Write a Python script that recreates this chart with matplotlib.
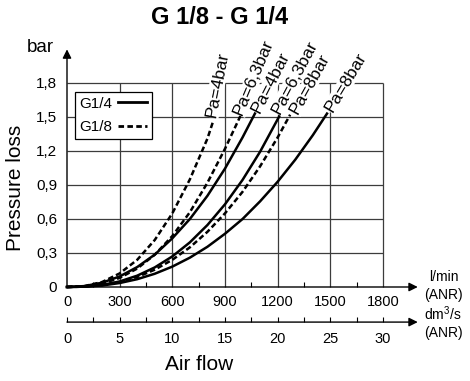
import matplotlib

matplotlib.use("Agg")

import matplotlib.pyplot as plt
from matplotlib.lines import Line2D

plt.rcParams["font.family"] = ["Liberation Sans", "DejaVu Sans"]
plt.rcParams["mathtext.fontset"] = "custom"
plt.rcParams["mathtext.rm"] = "Liberation Sans"
plt.rcParams["mathtext.it"] = "Liberation Sans"

# flow in l/min (ANR), pressure loss in bar
g18_4_x = [0, 100, 200, 300, 400, 500, 600, 700, 800, 834]
g18_4_y = [0, 0.008, 0.044, 0.12, 0.24, 0.415, 0.65, 0.95, 1.31, 1.47]

g18_63_x = [0, 100, 200, 300, 400, 500, 600, 700, 800, 900, 988]
g18_63_y = [0, 0.005, 0.029, 0.08, 0.163, 0.285, 0.45, 0.66, 0.92, 1.22, 1.51]

g14_4_x = [0, 100, 200, 300, 400, 500, 600, 700, 800, 900, 1000, 1072]
g14_4_y = [0, 0.008, 0.038, 0.093, 0.176, 0.286, 0.43, 0.60, 0.805, 1.045, 1.32, 1.535]

g14_63_x = [0, 100, 200, 300, 400, 500, 600, 700, 800, 900, 1000, 1100, 1214]
g14_63_y = [0, 0.003, 0.018, 0.049, 0.10, 0.173, 0.27, 0.394, 0.547, 0.73, 0.945, 1.194, 1.52]

g18_8_x = [0, 100, 200, 300, 400, 500, 600, 700, 800, 900, 1000, 1100, 1200, 1271]
g18_8_y = [0, 0.003, 0.016, 0.044, 0.088, 0.153, 0.24, 0.35, 0.487, 0.65, 0.84, 1.065, 1.32, 1.52]

g14_8_x = [0, 100, 200, 300, 400, 500, 600, 700, 800, 900, 1000, 1100, 1200, 1300, 1400, 1481]
g14_8_y = [0, 0.003, 0.013, 0.035, 0.069, 0.117, 0.18, 0.259, 0.355, 0.47, 0.60, 0.756, 0.929, 1.123, 1.339, 1.53]

curves = [
    (g18_4_x, g18_4_y, "G1/8", "Pa=4bar"),
    (g18_63_x, g18_63_y, "G1/8", "Pa=6,3bar"),
    (g14_4_x, g14_4_y, "G1/4", "Pa=4bar"),
    (g14_63_x, g14_63_y, "G1/4", "Pa=6,3bar"),
    (g18_8_x, g18_8_y, "G1/8", "Pa=8bar"),
    (g14_8_x, g14_8_y, "G1/4", "Pa=8bar"),
]
# label angle and offset (points) from the curve end
label_layout = [(79, (-1.9, 2.4)), (67, (-1.8, 1.0)), (63, (0.4, 0.6)),
                (62, (-3.2, 1.4)), (61, (2.8, 1.4)), (59, (1.4, 1.8))]

flow_ticks = [0, 300, 600, 900, 1200, 1500, 1800]
pressure_ticks = [0, 0.3, 0.6, 0.9, 1.2, 1.5, 1.8]
pressure_labels = ["0", "0,3", "0,6", "0,9", "1,2", "1,5", "1,8"]
dm3_ticks = [0, 5, 10, 15, 20, 25, 30]

DASH = (0, (2.2, 1.2))

fig = plt.figure(figsize=(4.7, 3.81), dpi=100)
ax = fig.add_axes([67 / 470, 94 / 381, 316 / 470, 204 / 381])
ax.set_xlim(0, 1800)
ax.set_ylim(0, 1.8)
for s in ax.spines.values():
    s.set_visible(False)

# grid
ax.hlines(pressure_ticks[1:], 0, 1800, color="#3c3c3c", lw=0.9, clip_on=False, zorder=1)
ax.vlines(flow_ticks[1:], 0, 1.8, color="#3c3c3c", lw=0.9, clip_on=False, zorder=1)

# axes with arrows
arrow = dict(arrowstyle="-|>", color="black", lw=1.0, mutation_scale=13, shrinkA=0, shrinkB=0)
ax.annotate("", xy=(1.11, 0), xytext=(0, 0), xycoords="axes fraction", arrowprops=arrow, annotation_clip=False)
ax.annotate("", xy=(0, 1.165), xytext=(0, 0), xycoords="axes fraction", arrowprops=arrow, annotation_clip=False)
ax.annotate("", xy=(1.11, -0.172), xytext=(0, -0.172), xycoords="axes fraction", arrowprops=arrow, annotation_clip=False)

ax.set_xticks(flow_ticks)
ax.set_xticks([150, 450, 750, 1050, 1350, 1650], minor=True)
ax.set_yticks(pressure_ticks)
ax.set_yticklabels(pressure_labels)
ax.tick_params(axis="x", which="major", length=0, pad=6, labelsize=10.5)
ax.tick_params(axis="x", which="minor", direction="in", length=3.5, width=0.8)
ax.tick_params(axis="y", which="major", length=0, pad=7, labelsize=11)

sec = ax.secondary_xaxis(-0.172, functions=(lambda q: q / 60, lambda q: q * 60))
sec.spines["bottom"].set_visible(False)
sec.set_xticks(dm3_ticks)
sec.set_xticks([2.5, 7.5, 12.5, 17.5, 22.5, 27.5], minor=True)
sec.tick_params(axis="x", which="both", direction="in", length=3.5, width=0.8, pad=7, labelsize=10.5)

for (xs, ys, size, label), (angle, offset) in zip(curves, label_layout):
    style = "-" if size == "G1/4" else DASH
    ax.plot(xs, ys, color="black", lw=1.8, linestyle=style, zorder=3, clip_on=False)
    ax.annotate(label, xy=(xs[-1], ys[-1]), xytext=offset, textcoords="offset points",
                rotation=angle, rotation_mode="anchor", ha="left", va="center", fontsize=12.5,
                bbox=dict(facecolor="white", edgecolor="none", pad=0.3), zorder=4, annotation_clip=False)

handles = [Line2D([], [], color="black", lw=2.0), Line2D([], [], color="black", lw=2.0, linestyle=(0, (2.0, 1.2)))]
leg = ax.legend(handles, ["G1/4", "G1/8"], loc="upper left", bbox_to_anchor=(0.024, 0.955), markerfirst=False,
                fontsize=11, frameon=True, fancybox=False, framealpha=1, edgecolor="black",
                handlelength=1.9, handletextpad=0.4, borderpad=0.3, labelspacing=0.62, borderaxespad=0)
leg.get_frame().set_linewidth(0.9)
leg.set_zorder(5)

fig.text(220 / 470, 1 - 17 / 381, "G 1/8 - G 1/4", fontsize=17, fontweight="bold", ha="center", va="center")
fig.text(40 / 470, 1 - 48 / 381, "bar", fontsize=13.5, ha="center", va="center")
fig.text(16 / 470, 1 - 188 / 381, "Pressure loss", fontsize=15, rotation=90, ha="center", va="center")
fig.text(199 / 470, 1 - 365 / 381, "Air flow", fontsize=15, ha="center", va="center")
fig.text(444 / 470, 1 - 277 / 381, "l/min", fontsize=10, ha="center", va="center")
fig.text(443 / 470, 1 - 295 / 381, "(ANR)", fontsize=10, ha="center", va="center")
fig.text(443 / 470, 1 - 314 / 381, r"dm$^3$/s", fontsize=10, ha="center", va="center")
fig.text(443 / 470, 1 - 333 / 381, "(ANR)", fontsize=10, ha="center", va="center")

fig.savefig("out.png", dpi=100)
